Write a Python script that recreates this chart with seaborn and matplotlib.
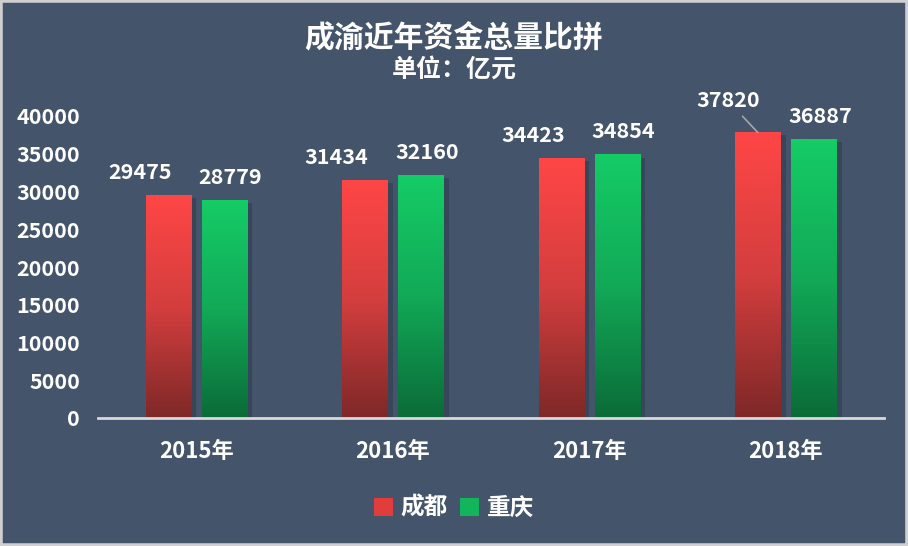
import matplotlib
matplotlib.use("Agg")

import matplotlib.pyplot as plt
import numpy as np
import pandas as pd
import seaborn as sns
from matplotlib.colors import LinearSegmentedColormap
from matplotlib.patches import Rectangle
from matplotlib import patheffects as pe

# data (亿元)
years = ["2015年", "2016年", "2017年", "2018年"]
cities = ["成都", "重庆"]
chengdu = [29475, 31434, 34423, 37820]
chongqing = [28779, 32160, 34854, 36887]
yticks = list(range(0, 40001, 5000))

title = "成渝近年资金总量比拼"
subtitle = "单位：亿元"

BG = "#44546A"
WHITE = "#FFFFFF"
AXIS = "#D9D9D9"
# gradient: bottom -> top
grads = {
    "成都": ["#7E2828", "#D43E3E", "#FF4646"],
    "重庆": ["#0B6B38", "#12A957", "#15CC66"],
}
solid = {"成都": "#E23C3C", "重庆": "#12B45C"}

df = pd.DataFrame({
    "year": years * 2,
    "city": [cities[0]] * len(years) + [cities[1]] * len(years),
    "value": chengdu + chongqing,
})

sns.set_theme(style="white")
plt.rcParams["font.family"] = ["Noto Sans CJK SC", "DejaVu Sans"]

fig, ax = plt.subplots(figsize=(9.08, 5.46), dpi=100)
fig.patch.set_facecolor(BG)
ax.set_facecolor(BG)
fig.subplots_adjust(left=98 / 908, right=884 / 908, bottom=1 - 418 / 546, top=1 - 116 / 546)

sns.barplot(data=df, x="year", y="value", hue="city", hue_order=cities,
            palette=[solid[c] for c in cities], width=0.57, gap=0.19,
            linewidth=0, legend=False, ax=ax, zorder=2)

# gradient fill + soft shadow for each bar
for city, cont in zip(cities, ax.containers):
    cmap = LinearSegmentedColormap.from_list(city, grads[city])
    for i, bar in enumerate(cont):
        bar.set_path_effects([pe.SimplePatchShadow(offset=(4, -2), shadow_rgbFace="#1E2633", alpha=0.3),
                              pe.Normal()])
        x0, w, h = bar.get_x(), bar.get_width(), bar.get_height()
        ax.imshow(np.linspace(0, 1, 256).reshape(-1, 1), extent=[x0, x0 + w, 0, h],
                  origin="lower", aspect="auto", cmap=cmap, zorder=3)
        dx = -28 if city == cities[0] else 6
        lead = city == cities[0] and i == len(years) - 1
        ax.annotate(f"{int(h)}", xy=(x0 + w / 2, h),
                    xytext=(dx - 2 if lead else dx, 32 if lead else 23), textcoords="offset pixels",
                    ha="center", va="center", color=WHITE, fontsize=15.5, fontweight="bold",
                    annotation_clip=False,
                    arrowprops=dict(arrowstyle="-", color="#A6A6A6", lw=1.2, shrinkA=2, shrinkB=0) if lead else None)

ax.set_xlim(-0.5, len(years) - 0.5)
ax.set_ylim(0, 40000)
ax.set_yticks(yticks)
ax.set_xlabel("")
ax.set_ylabel("")
ax.tick_params(axis="y", colors=WHITE, labelsize=15.5, length=0, pad=13)
ax.tick_params(axis="x", colors=WHITE, labelsize=16, length=0, pad=16)
for lab in ax.get_yticklabels() + ax.get_xticklabels():
    lab.set_fontweight("bold")

for side in ["top", "right", "left"]:
    ax.spines[side].set_visible(False)
ax.spines["bottom"].set_color(AXIS)
ax.spines["bottom"].set_linewidth(2)
ax.spines["bottom"].set_zorder(5)

fig.text(0.5, 1 - 38 / 546, title, ha="center", va="center", color=WHITE,
         fontsize=21.5, fontweight="bold")
fig.text(0.5, 1 - 70 / 546, subtitle, ha="center", va="center", color=WHITE,
         fontsize=18, fontweight="bold")

handles = [Rectangle((0, 0), 1, 1, facecolor=solid[c], edgecolor="none") for c in cities]
fig.legend(handles, cities, loc="center", bbox_to_anchor=(0.5, 1 - 508 / 546), ncol=2,
           frameon=False, labelcolor=WHITE, handlelength=0.8, handleheight=0.8,
           handletextpad=0.35, columnspacing=0.5,
           prop={"family": ["Noto Sans CJK SC", "DejaVu Sans"], "weight": "bold", "size": 17})

# light outer frame
fig.add_artist(Rectangle((0, 0), 1, 1, transform=fig.transFigure, fill=False,
                         edgecolor="#D0D0D0", linewidth=4))

fig.savefig("out.png", dpi=100, facecolor=BG)
